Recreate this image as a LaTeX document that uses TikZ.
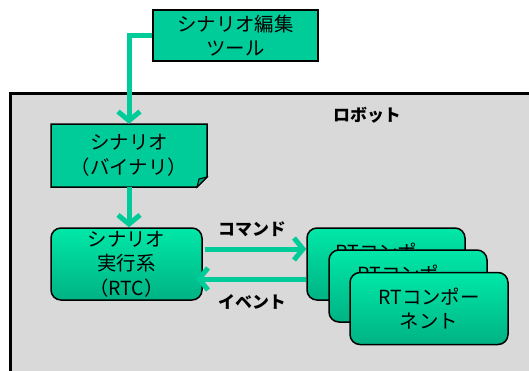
\documentclass[tikz,border=0pt]{standalone}
\usepackage{fontspec}
\newfontfamily\jp{Noto Sans CJK JP}
\usetikzlibrary{arrows.meta}
\definecolor{grn}{RGB}{0,204,153}
\definecolor{gdark}{RGB}{0,160,120}
\definecolor{gtop}{RGB}{0,232,168}
\definecolor{gbot}{RGB}{0,178,132}
\definecolor{bg}{RGB}{217,217,217}
\tikzset{
  flat/.style={draw=black, line width=1.5bp, fill=grn, align=center, inner sep=0pt},
  grad/.style={draw=black, line width=1.5bp, rounded corners=10bp, top color=gtop, bottom color=gbot, align=center, inner sep=0pt, minimum width=158bp, minimum height=72bp},
  conn/.style={draw=grn, line width=5bp, -{Straight Barb[length=9bp,width=22bp]}},
  lbl/.style={font=\jp\bfseries\fontsize{17}{20}\selectfont, inner sep=0pt},
  plain/.style={align=center, inner sep=0pt}
}
\begin{document}
\begin{tikzpicture}[x=1bp, y=-1bp, font=\jp\fontsize{19.5}{24.5}\selectfont]
\useasboundingbox (0,0) rectangle (529,370);
% robot area
\draw[fill=bg, line width=3bp] (10,93) rectangle (560,400);
\node[lbl] (robot) at (367,115) {ロボット};
% tool
\node[flat, minimum width=165bp, minimum height=51bp] (tool) at (235.5,35.5) {シナリオ編集\\ツール};
% scenario document
\draw[fill=grn, line width=1.5bp] (51,124) -- (207,124) -- (207,177) -- (197,187) -- (51,187) -- cycle;
\draw[fill=gdark, line width=1bp] (197,187) -- (199,179) -- (207,177) -- cycle;
\node[plain, minimum width=156bp, minimum height=63bp] (scen) at (129,155.5) {シナリオ\\（バイナリ）};
% exec
\node[grad, minimum width=151bp] (exec) at (126.5,264) {シナリオ\\実行系\\（RTC）};
% RT components
\node[grad] (rt1) at (386,264) {RTコンポー\\ネント};
\node[grad] (rt2) at (408,286) {RTコンポー\\ネント};
\node[grad] (rt3) at (429,308.5) {RTコンポー\\ネント};
% connectors
\draw[conn] (tool.west) -| (scen.north);
\draw[conn] (scen.south) -- (scen.south |- exec.north);
\draw[conn] ([xshift=2bp,yshift=15bp]exec.east) -- ([yshift=15bp]rt1.west);
\draw[conn] ([yshift=-15bp]rt1.west) -- ([xshift=-7bp,yshift=-15bp]exec.east);
\node[lbl] (cmd) at (252,229) {コマンド};
\node[lbl] (evt) at (252,302) {イベント};
\end{tikzpicture}
\end{document}
